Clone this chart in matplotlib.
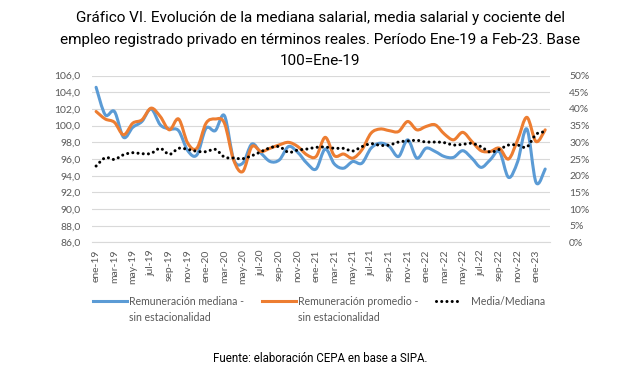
"""
Gráfico VI - mediana, media salarial y cociente (empleo registrado privado).
"""
import numpy as np
import matplotlib
matplotlib.use("Agg")
import matplotlib.pyplot as plt
from matplotlib.path import Path
from matplotlib.patches import PathPatch
from matplotlib.lines import Line2D
from matplotlib.ticker import FuncFormatter, MultipleLocator

BLUE = "#5B9BD5"
ORANGE = "#ED7D31"
GRID = "#D9D9D9"
TICK = "#595959"

# ── data ─────────────────────────────────────────────────────────────────────
meses = ["ene", "feb", "mar", "abr", "may", "jun",
         "jul", "ago", "sep", "oct", "nov", "dic"]
periodos = [f"{m}-{y}" for y in ("19", "20", "21", "22") for m in meses] + ["ene-23", "feb-23"]

mediana = [104.6, 101.3, 101.7, 98.6, 99.8, 100.5, 102.0, 100.1, 99.6, 99.4,
           97.0, 96.5, 99.7, 99.4, 101.2, 96.0, 95.5, 97.8, 96.7, 95.7,
           95.9, 97.5, 96.8, 95.5, 94.8, 97.2, 95.4, 94.9, 95.7, 95.5,
           97.3, 97.9, 97.5, 96.3, 98.3, 96.1, 97.3, 96.9, 96.3, 96.2,
           97.0, 96.1, 95.0, 95.9, 96.9, 93.8, 95.7, 99.6, 93.2, 94.8]

promedio = [101.7, 100.8, 100.4, 98.9, 100.3, 100.7, 102.1, 101.1, 99.5, 100.8,
            97.9, 97.3, 100.3, 100.8, 100.3, 95.9, 94.5, 97.5, 96.9, 97.3,
            97.7, 98.0, 97.5, 96.5, 96.3, 98.6, 96.4, 96.6, 96.1, 97.1,
            99.1, 99.6, 99.4, 99.3, 100.5, 99.5, 99.9, 100.1, 99.0, 98.3,
            99.2, 98.1, 97.0, 96.9, 97.3, 96.0, 98.3, 101.0, 98.1, 99.5]

cociente = [22.9, 25.4, 24.9, 26.3, 26.9, 26.6, 26.7, 28.2, 26.4, 28.2,
            27.9, 27.3, 27.2, 27.9, 25.6, 25.3, 25.1, 26.0, 27.2, 28.4,
            28.7, 27.0, 27.7, 28.0, 28.5, 28.6, 28.2, 28.2, 27.4, 28.7,
            29.6, 29.1, 29.2, 30.1, 30.4, 30.6, 30.1, 30.1, 29.9, 29.2,
            29.4, 29.7, 28.7, 27.1, 27.9, 29.2, 29.2, 28.6, 32.4, 33.2]


def smooth_path(y):
    """Excel-style smoothed line: Catmull-Rom segments as cubic Beziers."""
    x = np.arange(len(y), dtype=float)
    p = np.column_stack([x, np.asarray(y, dtype=float)])
    pp = np.vstack([p[0], p, p[-1]])
    verts = [p[0]]
    codes = [Path.MOVETO]
    for i in range(len(p) - 1):
        c1 = pp[i + 1] + (pp[i + 2] - pp[i]) / 6.0
        c2 = pp[i + 2] - (pp[i + 3] - pp[i + 1]) / 6.0
        verts += [c1, c2, pp[i + 2]]
        codes += [Path.CURVE4] * 3
    return Path(np.array(verts), codes)


fig = plt.figure(figsize=(6.4, 3.8), dpi=100, facecolor="white")
ax = fig.add_axes([0.143, 0.362, 0.716, 0.439])
ax2 = ax.twinx()

ax.add_patch(PathPatch(smooth_path(mediana), fill=False, edgecolor=BLUE,
                       lw=2.2, capstyle="round", joinstyle="round", zorder=3))
ax.add_patch(PathPatch(smooth_path(promedio), fill=False, edgecolor=ORANGE,
                       lw=2.2, capstyle="round", joinstyle="round", zorder=3))
ax2.add_patch(PathPatch(smooth_path(cociente), fill=False, edgecolor="black",
                        lw=2.2, linestyle=(0, (0.01, 1.7)), capstyle="round", zorder=4))

ax.set_xlim(-0.5, len(periodos) - 0.5)
ax.set_ylim(86, 106)
ax2.set_ylim(0, 50)

ax.yaxis.set_major_locator(MultipleLocator(2))
ax.yaxis.set_major_formatter(FuncFormatter(lambda v, _: f"{v:.1f}".replace(".", ",")))
ax2.yaxis.set_major_locator(MultipleLocator(5))
ax2.yaxis.set_major_formatter(FuncFormatter(lambda v, _: f"{v:.0f}%"))
ax.grid(axis="y", color=GRID, lw=0.8)
ax.set_axisbelow(True)

ax.set_xticks(range(0, len(periodos), 2))
ax.set_xticklabels(periodos[::2], rotation=90)

for a in (ax, ax2):
    for s in a.spines.values():
        s.set_visible(False)
    a.tick_params(length=0, colors=TICK, labelsize=7.5)
    for lab in a.get_xticklabels() + a.get_yticklabels():
        lab.set_family("Lato")
ax.spines["bottom"].set_visible(True)
ax.spines["bottom"].set_color(GRID)
ax.tick_params(axis="y", pad=8)
ax.tick_params(axis="x", pad=5)
ax2.tick_params(axis="y", pad=14)

fig.suptitle("Gráfico VI. Evolución de la mediana salarial, media salarial y cociente del\n"
             "empleo registrado privado en términos reales. Período Ene-19 a Feb-23. Base\n"
             "100=Ene-19", family="Roboto", fontsize=11, linespacing=1.72, y=0.972)

# legend drawn by hand so the handle sits on the first text line
leg_y = 1 - 301 / 380
items = [
    (0.145, 0.198, dict(color=BLUE, lw=2.2), "Remuneración mediana -\nsin estacionalidad"),
    (0.410, 0.462, dict(color=ORANGE, lw=2.2), "Remuneración promedio -\nsin estacionalidad"),
    (0.681, 0.722, dict(color="black", lw=2.2, linestyle=(0, (0.01, 1.7)),
                        dash_capstyle="round"), "Media/Mediana"),
]
for x0, x1, style, label in items:
    fig.add_artist(Line2D([x0, x1], [leg_y, leg_y], transform=fig.transFigure, **style))
    gap = 0.014 if x0 > 0.6 else 0.003
    fig.text(x1 + gap, leg_y + 0.014, label, family="Lato", fontsize=7.6, color=TICK,
             va="top", ha="left", linespacing=1.62)

fig.text(0.5, 1 - 358 / 380, "Fuente: elaboración CEPA en base a SIPA.",
         family="Roboto", fontsize=8.3, ha="center", va="center")

fig.savefig("out.png", dpi=100, facecolor="white")
plt.close(fig)
